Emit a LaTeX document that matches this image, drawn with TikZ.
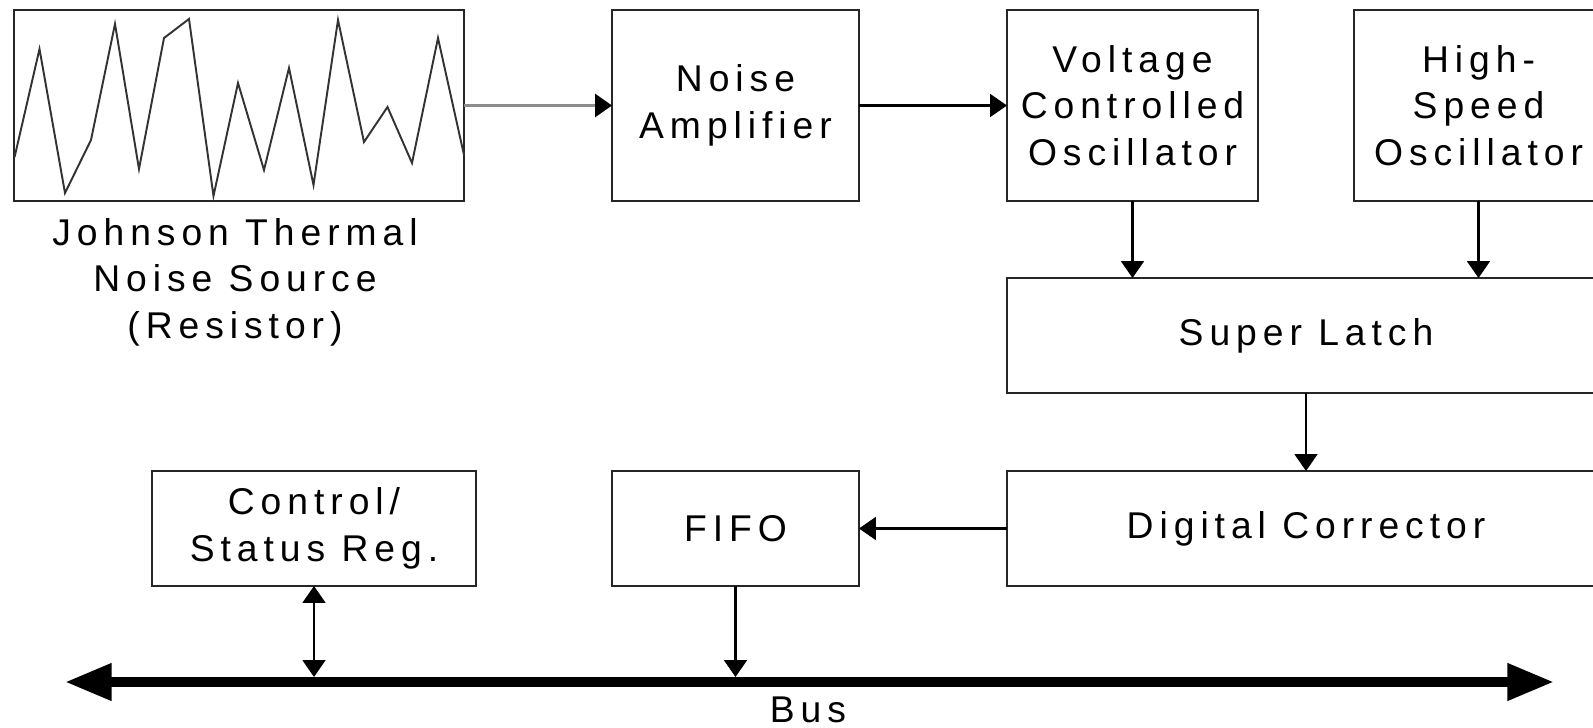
\documentclass[tikz,border=0pt]{standalone}
\usepackage{fontspec}
\setmainfont{Liberation Sans}[LetterSpace=16]
\usetikzlibrary{arrows.meta}
\begin{document}
\begin{tikzpicture}[%
    every node/.style={%
      inner sep=0pt,outer sep=0pt,align=center,
      font=\fontsize{10.6}{13.2}\selectfont},
    blk/.style={draw=black!85,line width=0.6pt},
    tip/.style={-{Triangle[length=4.8pt,width=6.5pt]}},
    line width=0.6pt
    ]
    \path[use as bounding box,clip](0,0)rectangle(15.93,7.27);
    \node[blk,minimum width=4.5cm,minimum height=1.91cm]at(2.393,6.215)(ns){};
    \draw[black!80,line width=0.55pt](0.146,5.70)--(0.395,6.78)--(0.65,5.34)--(0.91,5.87)
    --(1.15,7.03)--(1.39,5.58)--(1.64,6.89)--(1.89,7.08)--(2.135,5.31)--(2.38,6.44)
    --(2.64,5.57)--(2.89,6.59)--(3.135,5.42)--(3.38,7.07)--(3.64,5.85)--(3.875,6.20)
    --(4.12,5.64)--(4.38,6.89)--(4.64,5.72);
    \node at(2.35,4.45)(nsl){Johnson Thermal\\Noise Source\\(Resistor)};
    \node[blk,minimum width=2.47cm,minimum height=1.91cm]at(7.355,6.215)(amp)
    {Noise\\Amplifier};
    \node[blk,minimum width=2.51cm,minimum height=1.91cm]at(11.325,6.215)(vco)
    {Voltage\\Controlled\\Oscillator};
    \node[blk,minimum width=2.49cm,minimum height=1.91cm]at(14.785,6.215)(hso)
    {High-\\Speed\\Oscillator};
    \node[blk,minimum width=5.98cm,minimum height=1.15cm]at(13.06,3.915)(sl)
    {Super Latch};
    \node[blk,minimum width=5.98cm,minimum height=1.15cm]at(13.06,1.985)(dc)
    {Digital Corrector};
    \node[blk,minimum width=2.47cm,minimum height=1.15cm]at(7.355,1.985)(ff)
    {FIFO};
    \node[blk,minimum width=3.24cm,minimum height=1.15cm]at(3.14,1.985)(cs)
    {Control/\\Status Reg.};
    \coordinate(busl)at(0.65,0.45);
    \coordinate(busr)at(15.54,0.45);
    \coordinate(bust)at(0.65,0.50);
    \draw[line width=2.85pt,
    {Triangle[length=13.3pt,width=10pt]}-{Triangle[length=13.3pt,width=10pt]}]
    (busl)--(busr);
    \node at(8.08,0.17)(bus){Bus};
    \draw[black!45,line width=0.9pt,
    -{Triangle[length=4.8pt,width=6.5pt,color=black]}](ns)--(amp);
    \draw[tip](amp)--(vco);
    \draw[tip](vco.south)--(vco.south|-sl.north);
    \draw[tip](hso.south)--(hso.south|-sl.north);
    \draw[tip](sl)--(dc);
    \draw[tip](dc)--(ff);
    \draw[tip](ff.south)--(ff.south|-bust);
    \draw[{Triangle[length=4.8pt,width=6.5pt]}-{Triangle[length=4.8pt,width=6.5pt]}]
    (cs.south)--(cs.south|-bust);
  \end{tikzpicture}
\end{document}
